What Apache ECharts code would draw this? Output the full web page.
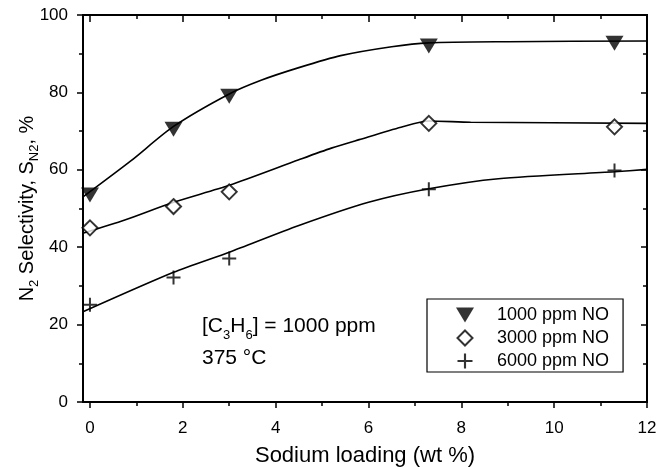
<!DOCTYPE html>
<html>
<head>
<meta charset="UTF-8">
<title>N2 selectivity</title>
<script src="https://cdn.jsdelivr.net/npm/echarts@6/dist/echarts.min.js"></script>
</head>
<body style="margin:0;background:#fff">
<div id="chart" style="width:659px;height:467px;"></div>
<script>
var loading = [0, 1.8, 3, 7.3, 11.3];
var no1000 = [53.5, 70.5, 79, 92, 92.7];
var no3000 = [45, 50.5, 54.3, 72, 71.1];
var no6000 = [25.1, 32.2, 37.1, 55, 59.8];

// fitted curves, points
var fit1000X = [-0.15, 0.88, 1.8, 3, 3.7, 4.5, 5.4, 6.5, 7.3, 9, 12];
var fit1000Y = [53, 62.3, 71.2, 79.6, 83.2, 86.4, 89.5, 91.8, 92.8, 93.1, 93.3];
var fit3000X = [-0.15, 0.75, 1.8, 3, 4.5, 5.2, 5.8, 6.7, 7.3, 8.2, 12];
var fit3000Y = [43.6, 47, 51.6, 56, 62.6, 65.6, 67.8, 71, 72.6, 72.3, 72];
var fit6000X = [-0.15, 1.8, 3, 4.5, 6, 7.3, 8.8, 11.3, 12];
var fit6000Y = [23.3, 33.5, 38.7, 45.6, 51.6, 55.1, 57.7, 59.5, 60.1];

var xMajor = [0, 2, 4, 6, 8, 10, 12];
var xMinor = [1, 3, 5, 7, 9, 11];

var FONT = 'Liberation Sans, Arial, sans-serif';

function pairs(xs, ys) {
    return xs.map(function (x, i) { return [x, ys[i]]; });
}

var triDown = 'path://M0,0L12,0L6,10Z';
var diamond = 'path://M7,0L14,7L7,14L0,7Z';
var plus = 'path://M6,0H8V6H14V8H8V14H6V8H0V6H6Z';

function xAxisDef(pos, ticks, len, inside, labels) {
    return {
        type: 'value', position: pos, min: -0.15, max: 12,
        axisLine: {show: true, onZero: false, lineStyle: {color: '#000', width: 2}},
        axisTick: {show: true, inside: inside, length: len, customValues: ticks,
                   lineStyle: {color: '#000', width: 1.5}},
        axisLabel: labels ? {show: true, customValues: xMajor, margin: 18,
                   color: '#000', fontSize: 17, fontFamily: FONT} : {show: false},
        splitLine: {show: false}
    };
}

var chart = echarts.init(document.getElementById('chart'), null, {renderer: 'canvas'});
var option = {
    backgroundColor: '#fff',
    animation: false,
    textStyle: {fontFamily: FONT, color: '#000'},
    grid: {left: 83, right: 12, top: 15, bottom: 65, containLabel: false, outerBoundsMode: 'none'},
    title: {
        left: 197, top: 305,
        text: '{a|[C}{s|3}{a|H}{s|6}{a|] = 1000 ppm}\n{a|375 °C}',
        textStyle: {
            rich: {
                a: {fontSize: 21, fontWeight: 'normal', fontFamily: FONT, color: '#000', lineHeight: 32},
                s: {fontSize: 13, fontWeight: 'normal', fontFamily: FONT, color: '#000', verticalAlign: 'bottom', lineHeight: 16}
            }
        }
    },
    legend: {
        orient: 'vertical', left: 427, top: 299,
        padding: [7, 14, 2, 29],
        itemWidth: 54, itemHeight: 15, itemGap: 5,
        borderColor: '#000', borderWidth: 1.2,
        textStyle: {fontSize: 18, fontFamily: FONT, color: '#000'},
        data: [
            {name: '1000 ppm NO', icon: triDown},
            {name: '3000 ppm NO', icon: diamond},
            {name: '6000 ppm NO', icon: plus}
        ]
    },
    xAxis: [
        Object.assign(xAxisDef('bottom', xMajor, 6, false, true), {
            name: 'Sodium loading (wt %)', nameLocation: 'middle', nameGap: 43,
            nameMoveOverlap: false,
            nameTextStyle: {fontSize: 22, fontFamily: FONT, color: '#000'}
        }),
        xAxisDef('bottom', xMinor, 4, false, false),
        xAxisDef('top', xMajor, 7, true, false),
        xAxisDef('top', xMinor, 4, true, false)
    ],
    yAxis: [
        {
            type: 'value', position: 'left', min: 0, max: 100, interval: 20,
            axisLine: {show: true, onZero: false, lineStyle: {color: '#000', width: 2}},
            axisTick: {show: true, inside: false, length: 6, lineStyle: {color: '#000', width: 1.5}},
            minorTick: {show: true, splitNumber: 2, length: 4, lineStyle: {color: '#000', width: 1.5}},
            axisLabel: {margin: 15, color: '#000', fontSize: 17, fontFamily: FONT},
            splitLine: {show: false},
            name: '{a|N}{s|2}{a| Selectivity, S}{s|N2}{a|, %}',
            nameLocation: 'middle', nameRotate: 90, nameGap: 42,
            nameMoveOverlap: false,
            nameTextStyle: {
                rich: {
                    a: {fontSize: 20, fontFamily: FONT, color: '#000', lineHeight: 28},
                    s: {fontSize: 13, fontFamily: FONT, color: '#000', verticalAlign: 'bottom', lineHeight: 14}
                }
            }
        },
        {
            type: 'value', position: 'right', min: 0, max: 100, interval: 20,
            axisLine: {show: true, onZero: false, lineStyle: {color: '#000', width: 2}},
            axisTick: {show: true, inside: true, length: 6, lineStyle: {color: '#000', width: 1.5}},
            minorTick: {show: true, splitNumber: 2, length: 4, lineStyle: {color: '#000', width: 1.5}},
            axisLabel: {show: false},
            splitLine: {show: false}
        }
    ],
    series: [
        {type: 'line', name: 'fit1000', data: pairs(fit1000X, fit1000Y), smooth: 0.25,
         showSymbol: false, lineStyle: {color: '#000', width: 1.6}, z: 2},
        {type: 'line', name: 'fit3000', data: pairs(fit3000X, fit3000Y), smooth: 0.25,
         showSymbol: false, lineStyle: {color: '#000', width: 1.6}, z: 2},
        {type: 'line', name: 'fit6000', data: pairs(fit6000X, fit6000Y), smooth: 0.25,
         showSymbol: false, lineStyle: {color: '#000', width: 1.6}, z: 2},
        {type: 'scatter', name: '1000 ppm NO', data: pairs(loading, no1000),
         symbol: triDown, symbolSize: [18, 15], itemStyle: {color: '#000'}, z: 5},
        {type: 'scatter', name: '3000 ppm NO', data: pairs(loading, no3000),
         symbol: diamond, symbolSize: [15, 15],
         itemStyle: {color: '#fff', borderColor: '#000', borderWidth: 2}, z: 5},
        {type: 'scatter', name: '6000 ppm NO', data: pairs(loading, no6000),
         symbol: plus, symbolSize: [14, 14], itemStyle: {color: '#000'}, z: 5}
    ]
};
chart.setOption(option);
</script>
</body>
</html>
